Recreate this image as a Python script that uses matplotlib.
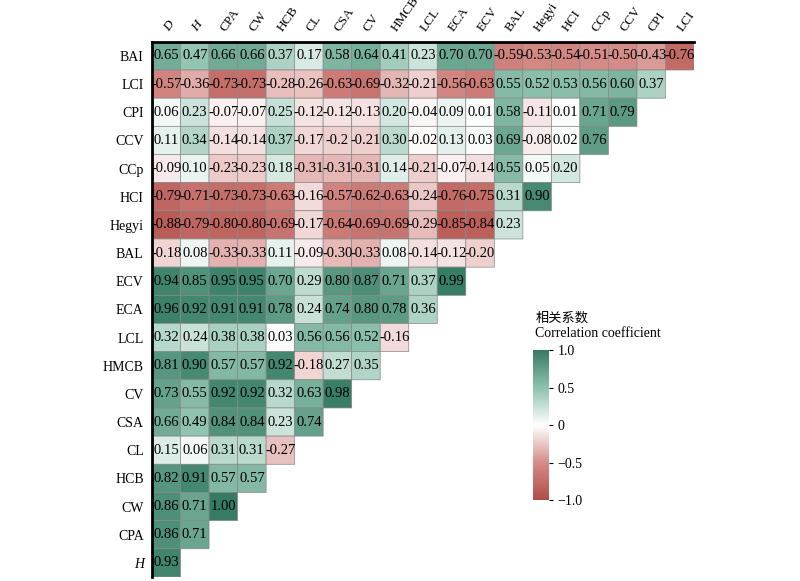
import numpy as np
import matplotlib
matplotlib.use("Agg")
import matplotlib.pyplot as plt
from matplotlib.colors import LinearSegmentedColormap

cols = ["D","H","CPA","CW","HCB","CL","CSA","CV","HMCB","LCL","ECA","ECV","BAL","Hegyi","HCI","CCp","CCV","CPI","LCI"]
rows = ["BAI","LCI","CPI","CCV","CCp","HCI","Hegyi","BAL","ECV","ECA","LCL","HMCB","CV","CSA","CL","HCB","CW","CPA","H"]
vals = [
 [0.65,0.47,0.66,0.66,0.37,0.17,0.58,0.64,0.41,0.23,0.70,0.70,-0.59,-0.53,-0.54,-0.51,-0.50,-0.43,-0.76],
 [-0.57,-0.36,-0.73,-0.73,-0.28,-0.26,-0.63,-0.69,-0.32,-0.21,-0.56,-0.63,0.55,0.52,0.53,0.56,0.60,0.37],
 [0.06,0.23,-0.07,-0.07,0.25,-0.12,-0.12,-0.13,0.20,-0.04,0.09,0.01,0.58,-0.11,0.01,0.71,0.79],
 [0.11,0.34,-0.14,-0.14,0.37,-0.17,-0.2,-0.21,0.30,-0.02,0.13,0.03,0.69,-0.08,0.02,0.76],
 [-0.09,0.10,-0.23,-0.23,0.18,-0.31,-0.31,-0.31,0.14,-0.21,-0.07,-0.14,0.55,0.05,0.20],
 [-0.79,-0.71,-0.73,-0.73,-0.63,-0.16,-0.57,-0.62,-0.63,-0.24,-0.76,-0.75,0.31,0.90],
 [-0.88,-0.79,-0.80,-0.80,-0.69,-0.17,-0.64,-0.69,-0.69,-0.29,-0.85,-0.84,0.23],
 [-0.18,0.08,-0.33,-0.33,0.11,-0.09,-0.30,-0.33,0.08,-0.14,-0.12,-0.20],
 [0.94,0.85,0.95,0.95,0.70,0.29,0.80,0.87,0.71,0.37,0.99],
 [0.96,0.92,0.91,0.91,0.78,0.24,0.74,0.80,0.78,0.36],
 [0.32,0.24,0.38,0.38,0.03,0.56,0.56,0.52,-0.16],
 [0.81,0.90,0.57,0.57,0.92,-0.18,0.27,0.35],
 [0.73,0.55,0.92,0.92,0.32,0.63,0.98],
 [0.66,0.49,0.84,0.84,0.23,0.74],
 [0.15,0.06,0.31,0.31,-0.27],
 [0.82,0.91,0.57,0.57],
 [0.86,0.71,1.00],
 [0.86,0.71],
 [0.93],
]

n = len(cols)
M = np.full((n, n), np.nan)
for i, r in enumerate(vals):
    M[i, :len(r)] = r

cmap = LinearSegmentedColormap.from_list("rg", ["#b14c47", "#d58c88", "#ffffff", "#8ec2ae", "#367c64"])
plt.rcParams['font.family'] = ['Liberation Serif', 'Noto Sans CJK SC']
fig = plt.figure(figsize=(8, 5.81), dpi=100)
ax = fig.add_axes([0.19, 0.007, 0.6775, 0.921])
mesh = ax.pcolor(np.ma.masked_invalid(M), cmap=cmap, vmin=-1, vmax=1,
                 edgecolors="#888888", linewidth=0.5)
ax.set_xlim(0, n); ax.set_ylim(n, 0)
for i, r in enumerate(vals):
    for j, v in enumerate(r):
        s = f"{v:.2f}" if not (i == 3 and j == 6) else "-0.2"
        ax.text(j + 0.5, i + 0.5, s, ha="center", va="center", fontsize=10.5)
ax.xaxis.tick_top()
ax.set_xticks(np.arange(n) + 0.5)
ax.set_xticklabels(cols, rotation=55, ha="left", va="center", fontsize=9.5, rotation_mode="anchor")
for t in ax.get_xticklabels()[:2]:
    t.set_style("italic")
ax.set_yticks(np.arange(n) + 0.5)
ax.set_yticklabels(rows, fontsize=10)
ax.get_yticklabels()[-1].set_style("italic")
ax.tick_params(axis="y", length=0, pad=6)
ax.tick_params(axis="x", length=0, pad=8)
for s in ["right", "bottom"]:
    ax.spines[s].set_visible(False)
for s in ["top", "left"]:
    ax.spines[s].set_linewidth(2)

cax = fig.add_axes([0.666, 0.139, 0.02, 0.258])
cb = fig.colorbar(mesh, cax=cax, ticks=[-1, -0.5, 0, 0.5, 1])
cb.ax.set_yticklabels(["\u22121.0", "\u22120.5", "0", "0.5", "1.0"], fontsize=10)
cb.outline.set_visible(False)
cb.ax.tick_params(length=3)
fig.text(0.669, 0.453, "相关系数", fontsize=9.5, family=['Noto Sans CJK SC'], va="center")
fig.text(0.669, 0.426, "Correlation coefficient", fontsize=10, va="center")
fig.savefig("out.png", dpi=100)
